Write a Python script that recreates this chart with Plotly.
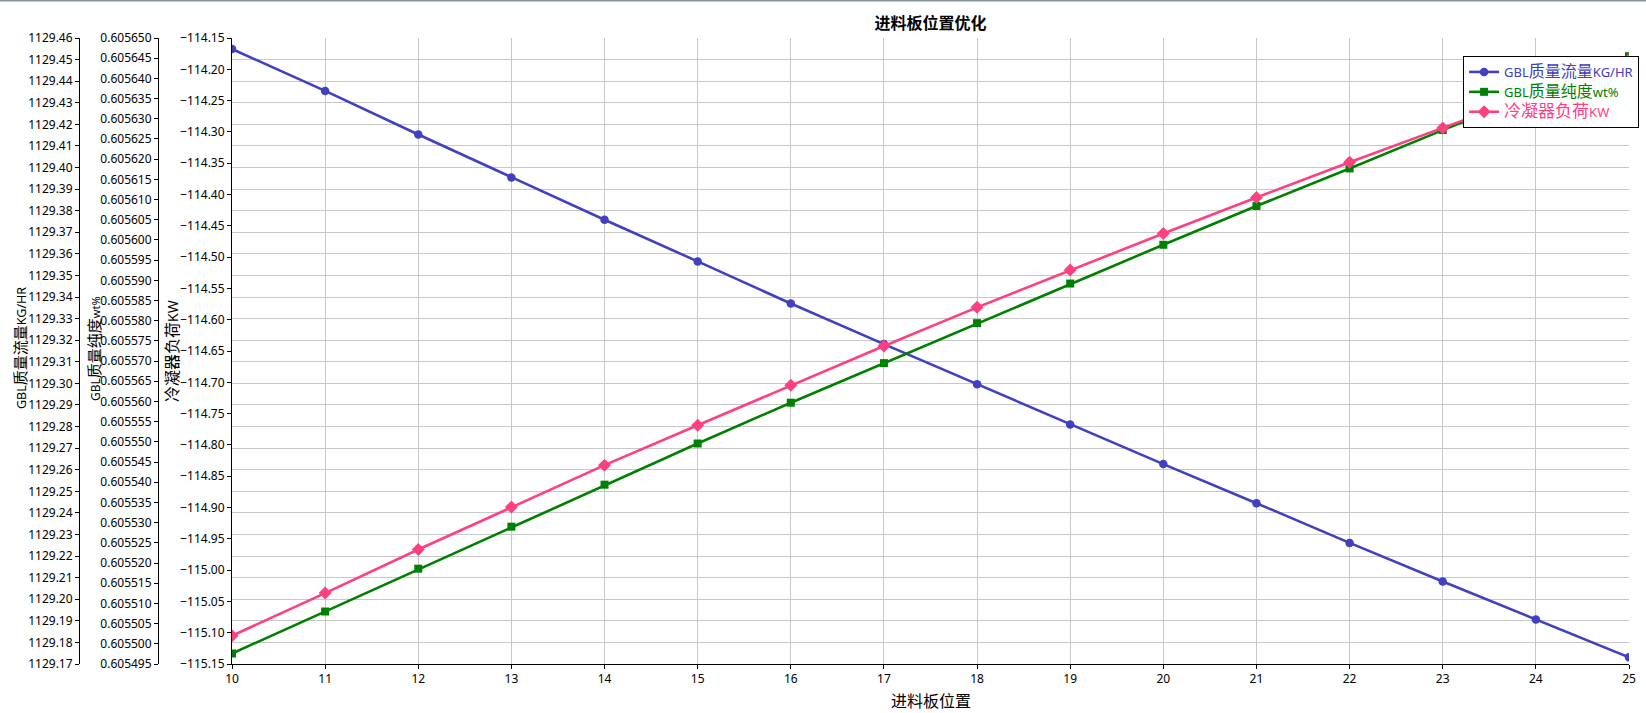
import plotly.graph_objects as go

# ---- data ----
plate_pos = [10, 11, 12, 13, 14, 15, 16, 17, 18, 19, 20, 21, 22, 23, 24, 25]
gbl_flow = [1129.4549, 1129.4355, 1129.4153, 1129.3954, 1129.3758, 1129.3565, 1129.3370, 1129.3182,
            1129.2996, 1129.2809, 1129.2626, 1129.2445, 1129.2261, 1129.2082, 1129.1906, 1129.1731]
gbl_purity = [0.6054976, 0.6055080, 0.6055186, 0.6055290, 0.6055394, 0.6055496, 0.6055597, 0.6055695,
              0.6055794, 0.6055892, 0.6055988, 0.6056084, 0.6056177, 0.6056272, 0.6056364, 0.6056455]
cond_duty = [-115.1048, -115.0367, -114.9671, -114.8994, -114.8324, -114.7686, -114.7047, -114.6420,
             -114.5803, -114.5207, -114.4622, -114.4047, -114.3484, -114.2936, -114.2391, -114.1845]

title_text = "进料板位置优化"
x_title = "进料板位置"
colors = {"flow": "#4040c0", "purity": "#008000", "duty": "#ff4080"}

W, H = 1646, 713
ML, MR, MT, MB = 0, 17, 38, 49
PW = W - ML - MR
x_left_px = 232
y1_pos_px = 79
y2_pos_px = 158

FONT = "Noto Sans, Noto Sans CJK SC, sans-serif"

fig = go.Figure()
fig.add_trace(go.Scatter(
    x=plate_pos, y=gbl_flow, yaxis="y", mode="lines+markers",
    name=f"<span style='color:{colors['flow']}'>GBL<span style='font-size:16px'>质量流量</span>KG/HR</span>",
    line=dict(color=colors["flow"], width=2.6),
    marker=dict(symbol="circle", size=8.5, color=colors["flow"])))
fig.add_trace(go.Scatter(
    x=plate_pos, y=gbl_purity, yaxis="y2", mode="lines+markers",
    name=f"<span style='color:{colors['purity']}'>GBL<span style='font-size:16px'>质量纯度</span>wt%</span>",
    line=dict(color=colors["purity"], width=2.6),
    marker=dict(symbol="square", size=8, color=colors["purity"])))
fig.add_trace(go.Scatter(
    x=plate_pos, y=cond_duty, yaxis="y3", mode="lines+markers",
    name=f"<span style='color:{colors['duty']}'><span style='font-size:17px'>冷凝器负荷</span>KW</span>",
    line=dict(color=colors["duty"], width=2.6),
    marker=dict(symbol="diamond", size=10, color=colors["duty"])))

eps = 1e-9
tickfont = dict(family=FONT, size=12, color="#000000")
common = dict(showline=True, linecolor="#000000", linewidth=1, ticks="outside", ticklen=4,
              tickcolor="#000000", tickfont=tickfont, zeroline=False, automargin=False)

fig.update_layout(
    width=W, height=H,
    margin=dict(l=ML, r=MR, t=MT, b=MB),
    paper_bgcolor="white", plot_bgcolor="white",
    font=dict(family=FONT, size=12, color="#000000"),
    showlegend=True,
    title=dict(text=f"<b>{title_text}</b>", font=dict(family=FONT, size=16, color="#000000"),
               x=((x_left_px / PW) + 1) / 2, xref="paper", xanchor="center",
               y=1 - 23.5 / H, yref="container", yanchor="middle"),
    xaxis=dict(domain=[x_left_px / PW, 1], range=[10 - 1e-6, 25 + 1e-6], tick0=10, dtick=1,
               showgrid=True, gridcolor="#c8c8c8", gridwidth=1, anchor="y", **common),
    yaxis=dict(range=[1129.17 - eps, 1129.46 + eps], tick0=1129.17, dtick=0.01, tickformat=".2f",
               anchor="free", position=y1_pos_px / PW, side="left",
               showgrid=True, gridcolor="#c8c8c8", gridwidth=1, **common),
    yaxis2=dict(range=[0.605495 - 1e-12, 0.605650 + 1e-12], tick0=0.605495, dtick=0.000005,
                tickformat=".6f", anchor="free", position=y2_pos_px / PW, side="left",
                overlaying="y", showgrid=False, **common),
    yaxis3=dict(range=[-115.15 - eps, -114.15 + eps], tick0=-115.15, dtick=0.05, tickformat=".2f",
                anchor="x", side="left", overlaying="y", showgrid=False, **common),
    legend=dict(x=1.0062, xanchor="right", y=(664.3 - 56) / 626.3, yanchor="top",
                bgcolor="white", bordercolor="#000000", borderwidth=1,
                font=dict(family=FONT, size=13), tracegroupgap=0),
    annotations=[
        dict(text="GBL<span style='font-size:15px'>质量流量</span>KG/HR", textangle=-90,
             xref="paper", yref="paper", x=0, xshift=20, y=0.5, yshift=3, xanchor="center", yanchor="middle",
             showarrow=False, font=dict(family=FONT, size=12.5, color="#000000")),
        dict(text="GBL<span style='font-size:15px'>质量纯度</span><span style='font-size:11px'>wt%</span>",
             textangle=-90, xref="paper", yref="paper", x=0, xshift=94, y=0.5, yshift=2,
             xanchor="center", yanchor="middle",
             showarrow=False, font=dict(family=FONT, size=12, color="#000000")),
        dict(text="<span style='font-size:16px'>冷凝器负荷</span>KW", textangle=-90,
             xref="paper", yref="paper", x=0, xshift=172, y=0.5, xanchor="center", yanchor="middle",
             showarrow=False, font=dict(family=FONT, size=14, color="#000000")),
        dict(text=x_title, xref="paper", yref="paper", x=((x_left_px / PW) + 1) / 2, y=0,
             yshift=-37, xanchor="center", yanchor="middle", showarrow=False,
             font=dict(family=FONT, size=16, color="#000000")),
    ],
    shapes=[dict(type="line", xref="paper", yref="paper", x0=0, x1=(W) / PW,
                 y0=1 + (MT - 0.5) / (H - MT - MB), y1=1 + (MT - 0.5) / (H - MT - MB),
                 line=dict(color="#8a93a3", width=2))],
)

fig.write_html("out.html", config={"displayModeBar": False},
               post_script="document.body.style.margin='0';document.body.style.overflow='hidden';")
